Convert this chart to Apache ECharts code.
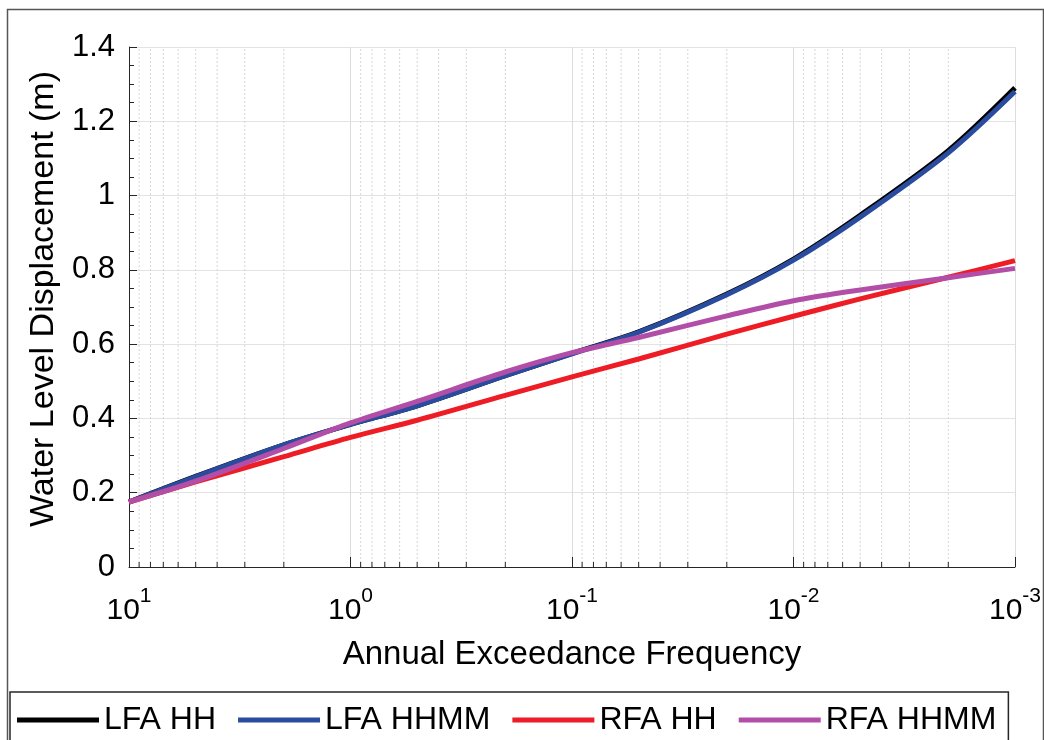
<!DOCTYPE html>
<html>
<head>
<meta charset="utf-8">
<script src="https://cdn.jsdelivr.net/npm/echarts@6/dist/echarts.min.js"></script>
<style>
html,body{margin:0;padding:0;background:#fff;}
#chart{width:1044px;height:740px;}
</style>
</head>
<body>
<div id="chart"></div>
<script>
// Annual exceedance frequency (x values)
var aef = [10, 5, 2, 1, 0.5, 0.2, 0.1, 0.05, 0.02, 0.01, 0.005, 0.002, 0.001];
// Water level displacement (m)
var lfaHH   = [0.175, 0.244, 0.329, 0.384, 0.434, 0.515, 0.575, 0.633, 0.735, 0.829, 0.947, 1.121, 1.290];
var lfaHHMM = [0.175, 0.243, 0.329, 0.384, 0.434, 0.515, 0.574, 0.632, 0.733, 0.826, 0.942, 1.115, 1.280];
var rfaHH   = [0.175, 0.229, 0.297, 0.349, 0.395, 0.462, 0.512, 0.560, 0.627, 0.675, 0.722, 0.780, 0.825];
var rfaHHMM = [0.175, 0.231, 0.319, 0.388, 0.446, 0.525, 0.577, 0.618, 0.676, 0.717, 0.746, 0.779, 0.804];
var seriesNames = ['LFA HH', 'LFA HHMM', 'RFA HH', 'RFA HHMM'];
// minor log ticks on the x axis
var minorX = [9, 8, 7, 6, 5, 4, 3, 2,
  0.9, 0.8, 0.7, 0.6, 0.5, 0.4, 0.3, 0.2,
  0.09, 0.08, 0.07, 0.06, 0.05, 0.04, 0.03, 0.02,
  0.009, 0.008, 0.007, 0.006, 0.005, 0.004, 0.003, 0.002];
var yTicks = {min: 0, max: 1.4, interval: 0.2};

var FONT = "'Liberation Sans', Arial, Helvetica, sans-serif";
function pairs(ys){ return aef.map(function(x, i){ return [x, ys[i]]; }); }

var colors = ['#000000', '#2a4c9f', '#ee1c25', '#b24ea7'];
var datasets = [lfaHH, lfaHHMM, rfaHH, rfaHHMM];

var lineSeries = datasets.map(function(d, i){
  return {
    name: seriesNames[i], type: 'line', data: pairs(d),
    showSymbol: false, smooth: 0.3,
    lineStyle: {color: colors[i], width: 5}, itemStyle: {color: colors[i]},
    z: 3 + i, animation: false
  };
});

var minorSeries = {
  type: 'custom', name: 'minor', silent: true, animation: false, z: 1,
  data: minorX.map(function(v){ return [v, 0]; }),
  renderItem: function(params, api){
    var x = api.value(0);
    var p0 = api.coord([x, yTicks.min]);
    var p1 = api.coord([x, yTicks.max]);
    return {type: 'group', children: [
      {type: 'line', shape: {x1: p0[0], y1: p0[1], x2: p1[0], y2: p1[1]},
       style: {stroke: '#d6d6d6', lineWidth: 1, lineDash: [2, 2]}},
      {type: 'line', shape: {x1: p0[0], y1: p0[1], x2: p0[0], y2: p0[1] - 5},
       style: {stroke: '#262626', lineWidth: 1}}
    ]};
  }
};

var chart = echarts.init(document.getElementById('chart'), null, {renderer: 'canvas'});
chart.setOption({
  backgroundColor: '#ffffff',
  animation: false,
  textStyle: {fontFamily: FONT},
  graphic: [{
    type: 'rect', left: 5, top: 7, silent: true, z: 100,
    shape: {width: 1036, height: 800},
    style: {fill: 'none', stroke: '#555555', lineWidth: 1.5}
  }],
  grid: {left: 129, right: 29, top: 47, bottom: 173, containLabel: false},
  legend: {
    data: seriesNames, left: 10, top: 692, orient: 'horizontal',
    padding: [10, 12, 40, 7], itemGap: 22, itemWidth: 82, itemHeight: 5,
    icon: 'rect', borderColor: '#262626', borderWidth: 1.5,
    textStyle: {fontSize: 32, fontFamily: FONT, color: '#000', lineHeight: 36},
    selectedMode: false
  },
  xAxis: {
    type: 'log', logBase: 10, min: 0.001, max: 10, inverse: true,
    name: 'Annual Exceedance Frequency', nameLocation: 'middle', nameGap: 71,
    nameTextStyle: {fontSize: 33, fontFamily: FONT, color: '#000'},
    axisLine: {show: true, onZero: false, lineStyle: {color: '#262626', width: 1}},
    axisTick: {show: true, inside: true, length: 10, lineStyle: {color: '#262626'}},
    splitLine: {show: true, lineStyle: {color: '#dcdcdc', width: 1}},
    axisLabel: {
      margin: 19, color: '#000',
      formatter: function(v){
        var e = Math.round(Math.log10(v));
        return '{b|10}{s|' + e + '}';
      },
      rich: {
        b: {fontSize: 30, fontFamily: FONT, color: '#000', lineHeight: 40, verticalAlign: 'bottom'},
        s: {fontSize: 21, fontFamily: FONT, color: '#000', lineHeight: 22, verticalAlign: 'top'}
      }
    }
  },
  yAxis: {
    type: 'value', min: yTicks.min, max: yTicks.max, interval: yTicks.interval,
    name: 'Water Level Displacement (m)', nameLocation: 'middle', nameGap: 68,
    nameTextStyle: {fontSize: 34, fontFamily: FONT, color: '#000', padding: [0, 0, 0, 16]},
    axisLine: {show: true, lineStyle: {color: '#262626', width: 1}},
    axisTick: {show: true, inside: true, length: 8, lineStyle: {color: '#262626'}},
    minorTick: {show: true, splitNumber: 4, length: 5, lineStyle: {color: '#262626'}},
    splitLine: {show: true, lineStyle: {color: '#e3e3e3', width: 1}},
    axisLabel: {margin: 14, fontSize: 31, fontFamily: FONT, color: '#000'}
  },
  series: [minorSeries].concat(lineSeries)
});
</script>
</body>
</html>
